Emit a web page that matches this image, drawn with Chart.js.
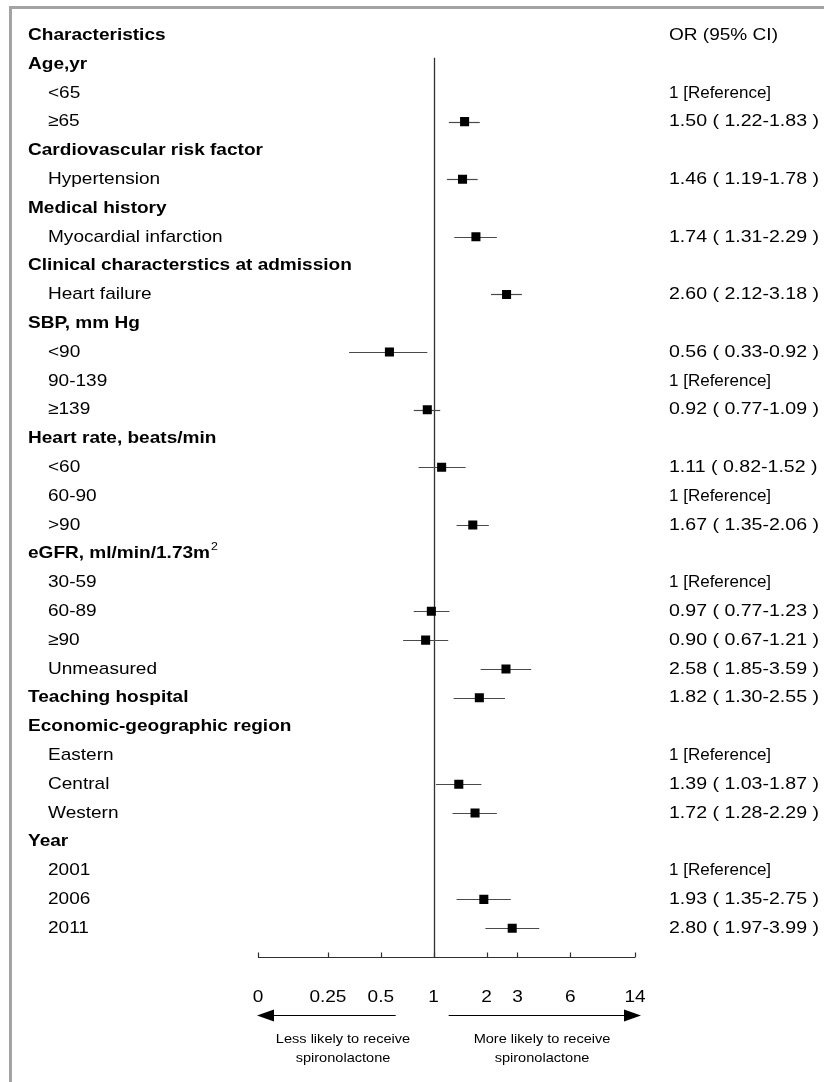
<!DOCTYPE html>
<html>
<head>
<meta charset="utf-8">
<title>Odds of receiving spironolactone</title>
<script src="https://cdn.jsdelivr.net/npm/chart.js@4/dist/chart.umd.min.js"></script>
<style>
  html, body { margin: 0; padding: 0; background: #ffffff; }
  #wrap { position: relative; width: 824px; height: 1082px; }
  canvas { display: block; }
</style>
</head>
<body>
<div id="wrap"><canvas id="forest" width="824" height="1082"></canvas></div>
<script>
// Row labels below the "Characteristics" column header
const rowLabels = [
  'Age,yr', '<65', '≥65',
  'Cardiovascular risk factor', 'Hypertension',
  'Medical history', 'Myocardial infarction',
  'Clinical characterstics at admission', 'Heart failure',
  'SBP, mm Hg', '<90', '90-139', '≥139',
  'Heart rate, beats/min', '<60', '60-90', '>90',
  'eGFR, ml/min/1.73m', '30-59', '60-89', '≥90', 'Unmeasured',
  'Teaching hospital',
  'Economic-geographic region', 'Eastern', 'Central', 'Western',
  'Year', '2001', '2006', '2011'
];
// Rows printed in bold as group headings
const headerRows = [0, 3, 5, 7, 9, 13, 17, 22, 23, 27];

// Odds ratios and 95% confidence limits (null = no estimate on that row)
const oddsRatio = [null, 1, 1.50, null, 1.46, null, 1.74, null, 2.60, null, 0.56, 1, 0.92,
  null, 1.11, 1, 1.67, null, 1, 0.97, 0.90, 2.58, 1.82, null, 1, 1.39, 1.72, null, 1, 1.93, 2.80];
const ciLow = [null, null, 1.22, null, 1.19, null, 1.31, null, 2.12, null, 0.33, null, 0.77,
  null, 0.82, null, 1.35, null, null, 0.77, 0.67, 1.85, 1.30, null, null, 1.03, 1.28, null, null, 1.35, 1.97];
const ciHigh = [null, null, 1.83, null, 1.78, null, 2.29, null, 3.18, null, 0.92, null, 1.09,
  null, 1.52, null, 2.06, null, null, 1.23, 1.21, 3.59, 2.55, null, null, 1.87, 2.29, null, null, 2.75, 3.99];

// Odds-ratio axis ticks (the leftmost tick sits at 0.1 and is printed as "0")
const tickValues = [0.1, 0.25, 0.5, 1, 2, 3, 6, 14];
const tickLabels = ['0', '0.25', '0.5', '1', '2', '3', '6', '14'];

const columnTitle = 'Characteristics';
const estimateTitle = 'OR (95% CI)';
const lessLikely = ['Less likely to receive', 'spironolactone'];
const moreLikely = ['More likely to receive', 'spironolactone'];

const FONT = '"Liberation Sans", Arial, Helvetica, sans-serif';
const STRETCH = 1.12;

function txt(ctx, s, x, y, size, bold, align, stretch) {
  const sx = stretch || STRETCH;
  ctx.save();
  ctx.font = (bold ? 'bold ' : '') + size + 'px ' + FONT;
  ctx.textBaseline = 'middle';
  ctx.fillStyle = '#000000';
  const w = ctx.measureText(s).width * sx;
  let x0 = x;
  if (align === 'center') x0 = x - w / 2;
  else if (align === 'right') x0 = x - w;
  ctx.translate(x0, y);
  ctx.scale(sx, 1);
  ctx.textAlign = 'left';
  ctx.fillText(s, 0, 0);
  ctx.restore();
  return w;
}

function isReference(i) {
  return oddsRatio[i] !== null && ciLow[i] === null;
}

function estimateText(i) {
  if (oddsRatio[i] === null) return '';
  if (isReference(i)) return oddsRatio[i] + ' [Reference]';
  return oddsRatio[i].toFixed(2) + ' ( ' + ciLow[i].toFixed(2) + '-' + ciHigh[i].toFixed(2) + ' )';
}

// Point data: one square per row with a confidence interval
const points = [];
oddsRatio.forEach((v, i) => {
  if (v !== null && ciLow[i] !== null) points.push({ x: v, y: i + 1 });
});

const forestPlugin = {
  id: 'forestDecor',
  beforeDatasetsDraw(chart) {
    const ctx = chart.ctx;
    const xs = chart.scales.x, ys = chart.scales.y;
    // reference line at OR = 1
    ctx.save();
    ctx.strokeStyle = '#303030';
    ctx.lineWidth = 1.3;
    const x1 = Math.round(xs.getPixelForValue(1)) + 0.5;
    ctx.beginPath();
    ctx.moveTo(x1, ys.getPixelForValue(0.78));
    ctx.lineTo(x1, ys.getPixelForValue(32));
    ctx.stroke();
    // confidence intervals
    ctx.strokeStyle = '#4a4a4a';
    ctx.lineWidth = 1.2;
    oddsRatio.forEach((v, i) => {
      if (v === null || ciLow[i] === null) return;
      const y = Math.round(ys.getPixelForValue(i + 1)) + 0.5;
      ctx.beginPath();
      ctx.moveTo(xs.getPixelForValue(ciLow[i]), y);
      ctx.lineTo(xs.getPixelForValue(ciHigh[i]), y);
      ctx.stroke();
    });
    ctx.restore();
  },
  afterDraw(chart) {
    const ctx = chart.ctx;
    const xs = chart.scales.x, ys = chart.scales.y;
    const W = chart.width, H = chart.height;

    // panel frame (top and left edges)
    ctx.save();
    ctx.fillStyle = '#a3a3a3';
    ctx.fillRect(10, 6, W - 10, 3);
    ctx.fillRect(9, 6, 3, H - 6);
    ctx.restore();

    // column headings
    const y0 = ys.getPixelForValue(0);
    txt(ctx, columnTitle, 28, y0, 17, true, 'left');
    txt(ctx, estimateTitle, 669, y0, 17, false, 'left');

    // row labels and estimates
    rowLabels.forEach((label, i) => {
      const y = ys.getPixelForValue(i + 1);
      const isHead = headerRows.includes(i);
      const w = txt(ctx, label, isHead ? 28 : 48, y, 17, isHead, 'left');
      if (label === 'eGFR, ml/min/1.73m') txt(ctx, '2', 28 + w + 1, y - 7, 11, false, 'left');
      const e = estimateText(i);
      if (e) txt(ctx, e, 669, y, 17, false, 'left', isReference(i) ? 1.0 : 1.15);
    });

    // odds-ratio axis
    const axisY = Math.round(ys.getPixelForValue(32)) + 0.5;
    const left = xs.getPixelForValue(tickValues[0]);
    const right = xs.getPixelForValue(tickValues[tickValues.length - 1]);
    ctx.save();
    ctx.strokeStyle = '#303030';
    ctx.lineWidth = 1.2;
    ctx.beginPath();
    ctx.moveTo(left, axisY);
    ctx.lineTo(right, axisY);
    tickValues.forEach(v => {
      const x = Math.round(xs.getPixelForValue(v)) + 0.5;
      ctx.moveTo(x, axisY);
      ctx.lineTo(x, axisY - 5);
    });
    ctx.stroke();
    ctx.restore();
    tickValues.forEach((v, k) => txt(ctx, tickLabels[k], xs.getPixelForValue(v), axisY + 40, 17, false, 'center'));

    // direction arrows
    const arrowY = axisY + 58;
    const x0 = xs.getPixelForValue(1);
    function arrow(from, to) {
      const dir = Math.sign(to - from);
      ctx.save();
      ctx.strokeStyle = '#000';
      ctx.fillStyle = '#000';
      ctx.lineWidth = 1.2;
      ctx.beginPath();
      ctx.moveTo(from, arrowY);
      ctx.lineTo(to - dir * 12, arrowY);
      ctx.stroke();
      ctx.beginPath();
      ctx.moveTo(to, arrowY);
      ctx.lineTo(to - dir * 17, arrowY - 6);
      ctx.lineTo(to - dir * 17, arrowY + 6);
      ctx.closePath();
      ctx.fill();
      ctx.restore();
    }
    arrow(x0 - 38, left - 1);
    arrow(x0 + 15, right + 6);

    txt(ctx, lessLikely[0], 343, arrowY + 24, 13, false, 'center');
    txt(ctx, lessLikely[1], 343, arrowY + 43, 13, false, 'center');
    txt(ctx, moreLikely[0], 542, arrowY + 24, 13, false, 'center');
    txt(ctx, moreLikely[1], 542, arrowY + 43, 13, false, 'center');
  }
};

new Chart(document.getElementById('forest'), {
  type: 'scatter',
  data: {
    datasets: [{
      data: points,
      pointStyle: 'rect',
      pointRadius: 6.4,
      pointHoverRadius: 6.4,
      backgroundColor: '#000000',
      borderColor: '#000000',
      borderWidth: 0
    }]
  },
  options: {
    responsive: false,
    animation: false,
    events: [],
    layout: { padding: { left: 258, right: 189, top: 6, bottom: 125 } },
    plugins: { legend: { display: false }, tooltip: { enabled: false } },
    scales: {
      x: { type: 'logarithmic', min: 0.1, max: 14, display: false },
      y: { type: 'linear', min: -1, max: 32, reverse: true, display: false }
    }
  },
  plugins: [forestPlugin]
});
</script>
</body>
</html>
